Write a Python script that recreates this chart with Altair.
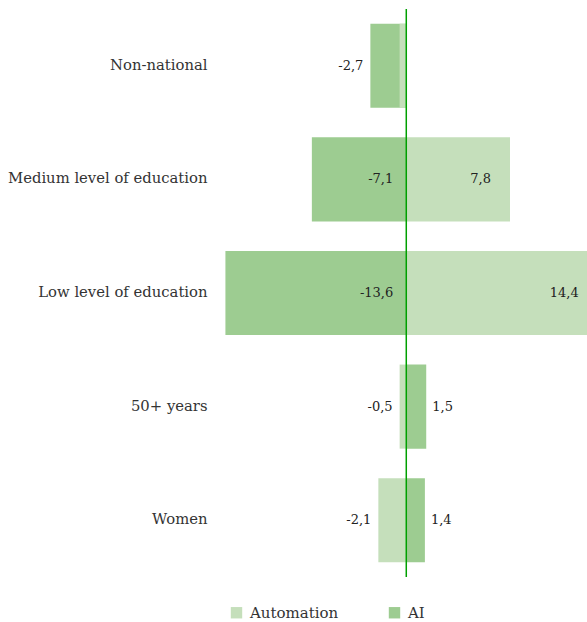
import altair as alt
import pandas as pd

# Change in employment share by group, split into automation and AI effects
groups = ["Non-national", "Medium level of education", "Low level of education", "50+ years", "Women"]
automation = [-0.5, 7.8, 14.4, -0.5, -2.1]
ai = [-2.7, -7.1, -13.6, 1.5, 1.4]
# value labels that are printed next to the bars
show_automation_label = [False, True, True, True, True]
show_ai_label = [True, True, True, True, True]

series = ["Automation", "AI"]
colors = ["#c5dfbb", "#9dcc91"]

rows = []
# AI rows first so the automation bars are drawn over them
for g, v, s in zip(groups, ai, show_ai_label):
    rows.append({"group": g, "series": "AI", "value": v, "show": s})
for g, v, s in zip(groups, automation, show_automation_label):
    rows.append({"group": g, "series": "Automation", "value": v, "show": s})
df = pd.DataFrame(rows)
df["label"] = df["value"].map(lambda v: f"{v:.1f}".replace(".", ","))

labels = df[df["show"]].copy()
# long negative bars: label just left of the zero line; long positive bars: inside the end;
# short bars: just outside the end
big_neg = labels[labels["value"] <= -3].assign(pos=0.0)
big_pos = labels[labels["value"] >= 3].assign(pos=lambda d: d["value"])
small_neg = labels[(labels["value"] < 0) & (labels["value"] > -3)].assign(pos=lambda d: d["value"])
small_pos = labels[(labels["value"] > 0) & (labels["value"] < 3)].assign(pos=lambda d: d["value"])

FONT = "DejaVu Serif"
x_scale = alt.Scale(domain=[-14.76, 13.59], nice=False, zero=False)
y_enc = alt.Y(
    "group:N",
    sort=groups,
    scale=alt.Scale(paddingInner=0.26, paddingOuter=0.13),
    axis=alt.Axis(
        title=None, domain=False, ticks=False, labelPadding=3,
        labelFont=FONT, labelFontSize=14.8, labelColor="#333333", labelLimit=300,
    ),
)

bars = alt.Chart(df).mark_bar(clip=True).encode(
    x=alt.X("value:Q", scale=x_scale, axis=None),
    x2=alt.datum(0),
    y=y_enc,
    color=alt.Color(
        "series:N",
        scale=alt.Scale(domain=series, range=colors),
        legend=alt.Legend(
            title=None, orient="none", direction="horizontal",
            legendX=19, legendY=596,
            symbolType="square", symbolSize=130, symbolStrokeWidth=0,
            labelFont=FONT, labelFontSize=15, labelColor="#333333",
            labelOffset=6, columnPadding=48,
        ),
    ),
)


def value_text(data, align, dx):
    return alt.Chart(data).mark_text(
        align=align, baseline="middle", dx=dx,
        font=FONT, fontSize=13, color="#222222",
    ).encode(
        x=alt.X("pos:Q", scale=x_scale),
        y=alt.Y("group:N", sort=groups),
        text="label:N",
    )


texts = (
    value_text(big_neg, "right", -13)
    + value_text(big_pos, "right", -19)
    + value_text(small_neg, "right", -7)
    + value_text(small_pos, "left", 6)
)

zero_line = alt.Chart(pd.DataFrame({"x": [0.0]})).mark_rule(
    color="#00a000", strokeWidth=1.5
).encode(x=alt.X("x:Q", scale=x_scale))

chart = (
    alt.layer(bars, zero_line, texts)
    .properties(
        width=377, height=568,
        autosize=alt.AutoSizeParams(type="none"),
        padding={"left": 210, "top": 9, "right": 0, "bottom": 45},
        background="white",
    )
    .configure_view(stroke=None)
)

chart.save("out.html", embed_options={"renderer": "svg", "actions": False})
